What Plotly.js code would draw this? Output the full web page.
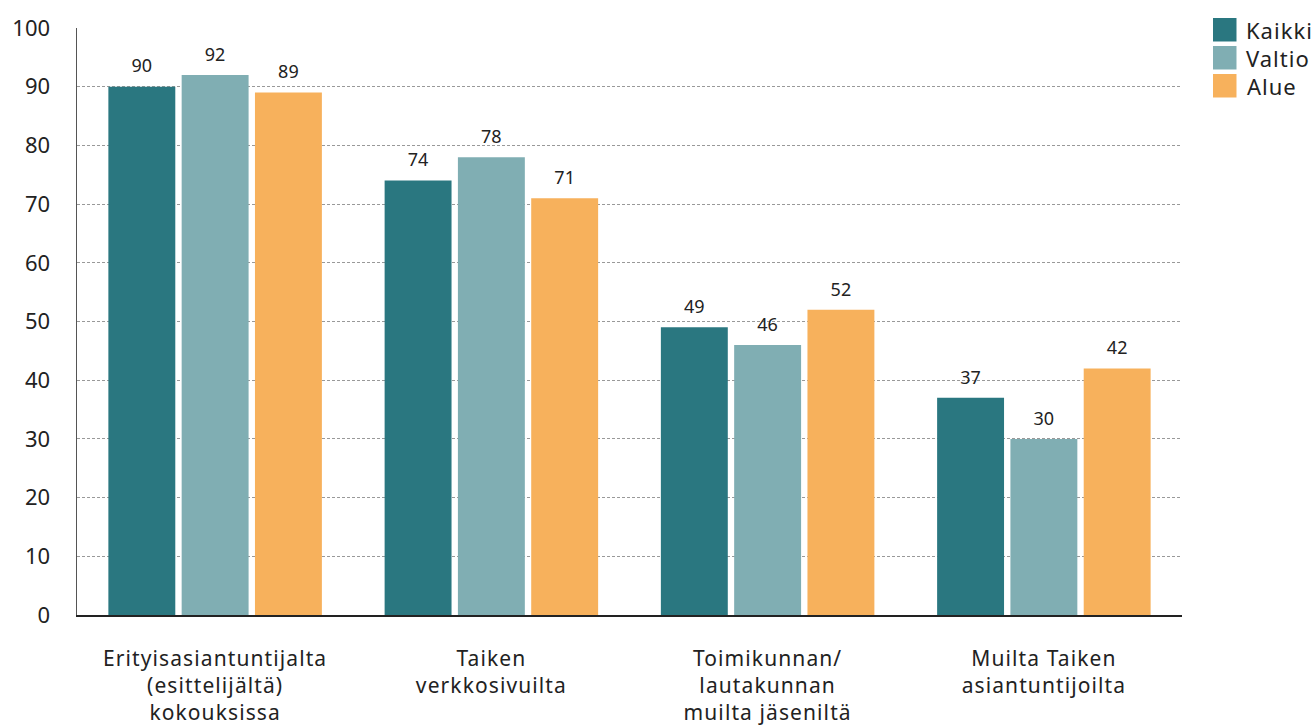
<!DOCTYPE html>
<html><head><meta charset="utf-8">
<script src="https://cdn.plot.ly/plotly-3.0.1.min.js"></script>
<style>
html,body{margin:0;padding:0;background:#fff}
#chart .xtick text{letter-spacing:1.1px}
#chart .annotation-text{letter-spacing:1px}
</style>
</head><body>
<div id="chart" style="width:1316px;height:725px"></div>
<script>
const categories = ["Erityisasiantuntijalta<br>(esittelijältä)<br>kokouksissa", "Taiken<br>verkkosivuilta", "Toimikunnan/<br>lautakunnan<br>muilta jäseniltä", "Muilta Taiken<br>asiantuntijoilta"];
const kaikki = [90, 74, 49, 37];
const valtio = [92, 78, 46, 30];
const alue = [89, 71, 52, 42];
const seriesNames = ["Kaikki", "Valtio", "Alue"];
const seriesValues = [kaikki, valtio, alue];
const colors = ["#2a7780", "#80aeb3", "#f7b15c"];
const font = "'Noto Sans', 'Open Sans', sans-serif";

const W = 1316, H = 725, L = 77, R = 134, T = 28, B = 110;
const pw = W - L - R, ph = H - T - B;

const data = [];
seriesValues.forEach((vals, i) => {
  data.push({
    type: "bar", name: seriesNames[i], x: categories, y: vals,
    marker: {color: colors[i]}, offsetgroup: String(i), showlegend: false,
    hoverinfo: "skip"
  });
});
seriesValues.forEach((vals, i) => {
  data.push({
    type: "scatter", mode: "markers+text", x: categories, y: vals,
    offsetgroup: String(i), showlegend: false, cliponaxis: false,
    marker: {size: 14, opacity: 0, color: colors[i]},
    text: vals.map(String), textposition: "top center",
    textfont: {family: font, size: 18, color: "#222"}, hoverinfo: "skip"
  });
});

// custom legend (squares + real text)
const shapes = [], annotations = [];
const legTop = 18, legStep = 28, sq = 23.5, legX = 1213;
seriesNames.forEach((n, i) => {
  const top = legTop + i * legStep;
  shapes.push({
    type: "rect", xref: "paper", yref: "paper",
    x0: (legX - L) / pw, x1: (legX + sq - L) / pw,
    y0: (H - B - top) / ph, y1: (H - B - top - sq) / ph,
    fillcolor: colors[i], line: {width: 0}
  });
  annotations.push({
    xref: "paper", yref: "paper", x: (legX + 34 - L) / pw, y: (H - B - top - sq / 2) / ph,
    xanchor: "left", yanchor: "middle", showarrow: false, text: n,
    font: {family: font, size: 22, color: "#222"}
  });
});

const layout = {
  width: W, height: H,
  margin: {l: L, r: R, t: T, b: B},
  paper_bgcolor: "#fff", plot_bgcolor: "#fff",
  font: {family: font, color: "#222"},
  barmode: "group", bargap: 0.204, bargroupgap: 0.087,
  scattermode: "group", scattergap: 0.204,
  showlegend: false,
  xaxis: {
    showline: true, linecolor: "#222", linewidth: 1.5, showgrid: false, automargin: false,
    ticks: "", tickfont: {size: 21, color: "#222"}, ticklabelstandoff: 24
  },
  yaxis: {
    range: [0, 100], dtick: 10, showline: true, linecolor: "#555", linewidth: 1.5, automargin: false,
    gridcolor: "#999", griddash: "3px,2px", gridwidth: 1, zeroline: false,
    tickfont: {size: 22, color: "#222"}, ticklabelstandoff: 21
  },
  shapes, annotations
};
Plotly.newPlot("chart", data, layout, {displayModeBar: false, staticPlot: true});
</script>
</body></html>
